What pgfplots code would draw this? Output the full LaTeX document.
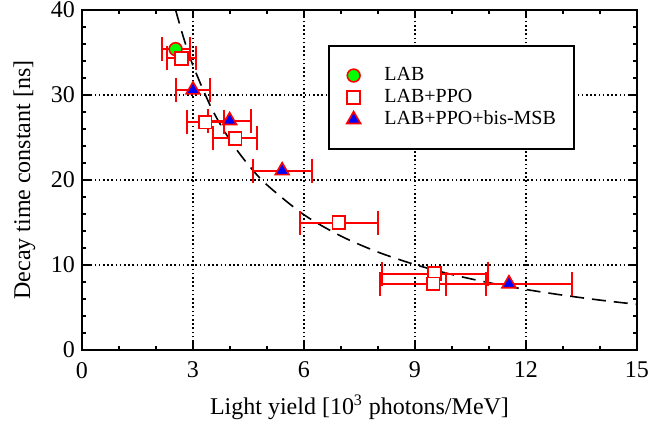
\documentclass[border=0pt]{standalone}
\usepackage{fontspec}
\setmainfont{Liberation Serif}
\usepackage{pgfplots}
\pgfplotsset{compat=1.18}

\begin{document}
\begin{tikzpicture}
\begin{axis}[
  scale only axis,
  width=277.5pt, height=170pt,
  xmin=0, xmax=15, ymin=0, ymax=40,
  xtick={0,3,...,15}, ytick={0,10,...,40},
  minor x tick num=2, minor y tick num=4,
  tick align=inside, xtick pos=both, ytick pos=both,
  major tick length=3.8pt, minor tick length=2.2pt,
  axis line style={line width=1pt},
  every tick/.style={black, line width=0.8pt},
  grid=major,
  major grid style={black, line width=0.8pt, dash pattern=on 0.8pt off 1.3pt},
  /pgf/number format/assume math mode=true,
  tick label style={font=\fontsize{12}{14}\selectfont},
  xticklabel style={yshift=-2.5pt},
  label style={font=\fontsize{12}{14}\selectfont},
  xlabel={Light yield [10\textsuperscript{3} photons/MeV]},
  ylabel={Decay time constant [ns]},
  xlabel style={yshift=-1.5pt},
  ylabel style={yshift=1pt},
  legend style={draw=black, line width=1pt, at={(0.443,0.897)}, anchor=north west,
    font=\fontsize{10}{12}\selectfont, inner xsep=7pt, inner ysep=8.7pt,
    row sep=-1.2pt},
  legend cell align=left,
  legend image code/.code={%
    \path (-5pt,0pt) (13pt,0pt);
    \draw[#1] plot coordinates {(0pt,0pt)};},
  error bars/error bar style={red, line width=1pt},
  error bars/error mark options={red, rotate=90, mark size=6pt, line width=1pt},
]
% dashed fit curve
\addplot[black, line width=0.8pt, dash pattern=on 7pt off 4pt, smooth, forget plot] coordinates {
  (2.53,40.0) (2.75,36.67) (3,33.47) (3.5,28.45) (4,24.69) (4.5,21.76)
  (5,19.42) (6,15.91) (7,13.40) (8,11.52) (9,10.05) (10,8.88)
  (11,7.92) (12,7.12) (13,6.45) (14,5.87) (15,5.37)
};
\addplot[only marks, mark=*, mark size=3.2pt, draw=red, fill=green, line width=0.8pt,
  error bars/.cd, x dir=both, x explicit] coordinates {
  (2.53,35.4) +- (0.38,0)
};
\addlegendentry{LAB}
\addplot[only marks, mark=square*, mark size=3.2pt, draw=red, fill=white, line width=0.8pt,
  error bars/.cd, x dir=both, x explicit] coordinates {
  (2.69,34.3) +- (0.40,0)
  (3.33,26.8) +- (0.50,0)
  (4.14,24.9) +- (0.60,0)
  (6.94,15.0) +- (1.05,0)
  (9.53,9.0) +- (1.43,0)
  (9.49,7.8) +- (1.43,0)
};
\addlegendentry{LAB+PPO}
\addplot[only marks, mark=triangle*, mark size=4pt, draw=red, fill=blue, line width=0.8pt,
  error bars/.cd, x dir=both, x explicit] coordinates {
  (3.00,30.6) +- (0.45,0)
  (3.99,27.0) +- (0.58,0)
  (5.41,21.1) +- (0.80,0)
  (11.54,7.8) +- (1.71,0)
};
\addlegendentry{LAB+PPO+bis-MSB}
\end{axis}
\pgfresetboundingbox
\path[use as bounding box] (-41pt,-37.5pt) rectangle (283.5pt,175pt);
\end{tikzpicture}
\end{document}
